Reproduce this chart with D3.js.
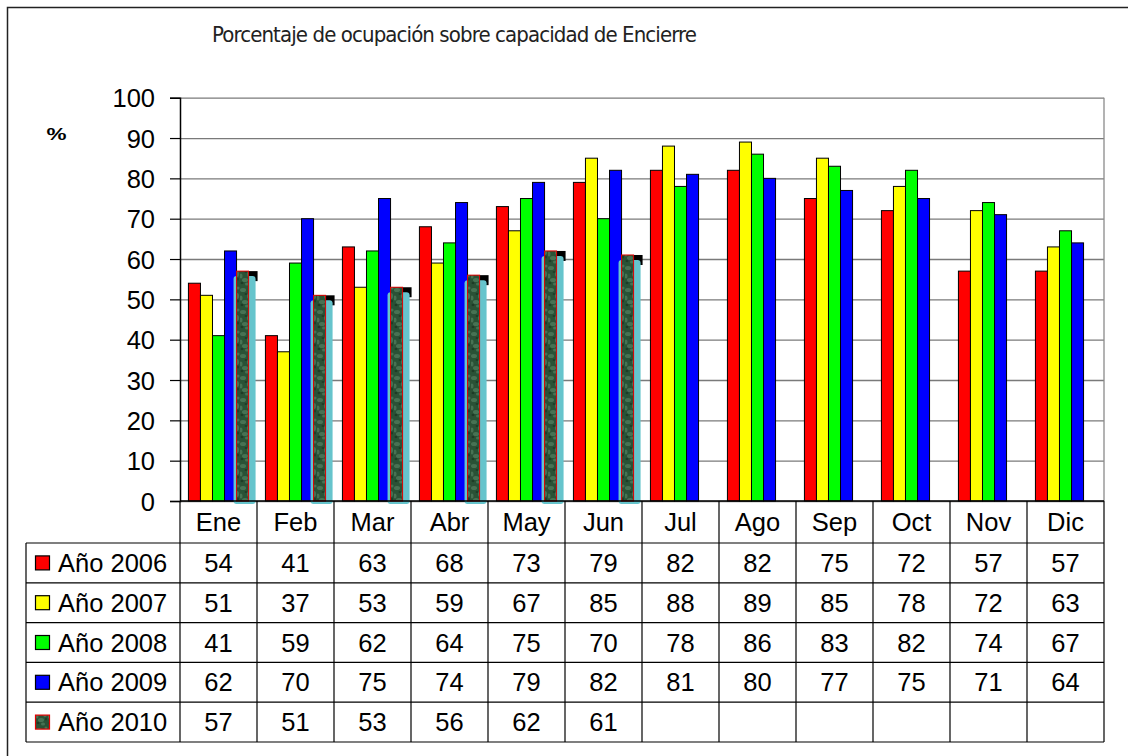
<!DOCTYPE html>
<html>
<head>
<meta charset="utf-8">
<script src="https://cdn.jsdelivr.net/npm/d3@7"></script>
<style>
  html, body { margin: 0; padding: 0; background: #fff; }
  svg { display: block; }
  text { font-family: "Liberation Sans", Arial, sans-serif; }
</style>
</head>
<body>
<svg id="chart" width="1128" height="756"></svg>
<script>
// ---------- data ----------
const months = ["Ene","Feb","Mar","Abr","May","Jun","Jul","Ago","Sep","Oct","Nov","Dic"];
const seriesNames = ["Año 2006","Año 2007","Año 2008","Año 2009","Año 2010"];
const values2006 = [54,41,63,68,73,79,82,82,75,72,57,57];
const values2007 = [51,37,53,59,67,85,88,89,85,78,72,63];
const values2008 = [41,59,62,64,75,70,78,86,83,82,74,67];
const values2009 = [62,70,75,74,79,82,81,80,77,75,71,64];
const values2010 = [57,51,53,56,62,61,null,null,null,null,null,null];
const yTicks = [0,10,20,30,40,50,60,70,80,90,100];
const titleText = "Porcentaje de ocupación sobre capacidad de Encierre";
const yUnit = "%";

const seriesValues = [values2006, values2007, values2008, values2009, values2010];
const seriesColors = ["#ff0000","#ffff00","#00ff00","#0000ff","url(#marble)"];
const seriesStroke = ["#000","#000","#000","#000","#e00000"];

// ---------- layout ----------
const plotLeft = 180, plotRight = 1104, plotTop = 97.7, plotBottom = 501;
const headerBottom = 543, tableBottom = 742, legendLeft = 26;
const fs = 25.5;

const svg = d3.select("#chart");

// pattern for 2010 bars (mottled dark green)
const defs = svg.append("defs");
const pat = defs.append("pattern").attr("id","marble").attr("patternUnits","userSpaceOnUse")
  .attr("width",12).attr("height",22);
pat.append("rect").attr("width",12).attr("height",22).attr("fill","#2a5236");
[[3,4,3,2],[9,10,2,3],[5,16,3,2],[1,12,1.5,2.5],[10,2,1.5,1.5],[7,20,2,1.5]].forEach(d=>{
  pat.append("ellipse").attr("cx",d[0]).attr("cy",d[1]).attr("rx",d[2]).attr("ry",d[3])
    .attr("fill","#5e8c6b").attr("opacity",0.55);
});
[[6,8,1.5,1],[2,19,1.5,1.2],[10,15,1,1.5]].forEach(d=>{
  pat.append("ellipse").attr("cx",d[0]).attr("cy",d[1]).attr("rx",d[2]).attr("ry",d[3])
    .attr("fill","#17331f").attr("opacity",0.7);
});

// outer border
svg.append("rect").attr("x",7.5).attr("y",7.5).attr("width",1300).attr("height",900)
  .attr("fill","none").attr("stroke","#222").attr("stroke-width",1.5);

// title
svg.append("text").attr("x",454.5).attr("y",42.3).attr("text-anchor","middle")
  .attr("textLength",485).attr("lengthAdjust","spacing")
  .style("font-family","'Liberation Sans Narrow','Arial Narrow','DejaVu Sans Condensed',sans-serif")
  .style("font-size","22px").attr("fill","#222").text(titleText);

// scales
const x0 = d3.scaleBand().domain(months).range([plotLeft, plotRight]);
const x1 = d3.scaleBand().domain(seriesNames).range([0, x0.bandwidth()]).paddingOuter(0.7);
const y = d3.scaleLinear().domain([0,100]).range([plotBottom, plotTop]);

// gridlines
const grid = svg.append("g").attr("transform",`translate(${plotLeft},0)`)
  .call(d3.axisLeft(y).tickValues(yTicks).tickSize(-(plotRight-plotLeft)).tickFormat(""));
grid.select(".domain").remove();
grid.selectAll("line").attr("stroke","#7a7a7a").attr("stroke-width",1.3);

// plot right border
svg.append("line").attr("x1",plotRight).attr("x2",plotRight).attr("y1",plotTop).attr("y2",plotBottom)
  .attr("stroke","#8a8a8a").attr("stroke-width",1.3);

// bars
const groups = svg.append("g").selectAll("g").data(months).join("g")
  .attr("transform", m => `translate(${x0(m)},0)`);

groups.each(function(m, mi){
  const g = d3.select(this);
  seriesNames.forEach((s, si) => {
    const v = seriesValues[si][mi];
    if (v == null) return;
    const bx = x1(s), bw = x1.bandwidth(), by = y(v), bh = y(0) - y(v);
    if (si === 4) {
      // 3D-like shadow behind textured bar
      g.append("rect").attr("x", bx + 2).attr("y", by).attr("width", bw + 7).attr("height", 10).attr("fill","#000");
      g.append("rect").attr("x", bx - 3).attr("y", by + 5).attr("width", bw + 10).attr("height", bh - 2)
        .attr("rx",3).attr("fill","#66c4cc");
    }
    g.append("rect").attr("x", bx).attr("y", by).attr("width", bw).attr("height", bh)
      .attr("fill", seriesColors[si]).attr("stroke", seriesStroke[si]).attr("stroke-width", 1);
  });
});

// y axis
const yAxis = svg.append("g").attr("transform",`translate(${plotLeft},0)`)
  .call(d3.axisLeft(y).tickValues(yTicks).tickSize(10).tickPadding(15));
yAxis.select(".domain").attr("stroke","#000").attr("stroke-width",1.5);
yAxis.selectAll(".tick line").attr("stroke","#000").attr("stroke-width",1.2);
yAxis.selectAll(".tick text").attr("fill","#000").style("font-size", fs + "px")
  .style("font-family","'Liberation Sans', Arial, sans-serif").attr("dy","0.36em");

// zero line
svg.append("line").attr("x1",plotLeft).attr("x2",plotRight).attr("y1",plotBottom).attr("y2",plotBottom)
  .attr("stroke","#000").attr("stroke-width",1.3);

// unit label
svg.append("text").attr("x",56.5).attr("y",140).attr("text-anchor","middle")
  .attr("textLength",20).attr("lengthAdjust","spacingAndGlyphs")
  .style("font-size","17px").style("font-weight","bold").text(yUnit);

// ---------- data table ----------
const rowY = d3.scaleBand().domain(seriesNames).range([headerBottom, tableBottom]);
const tbl = svg.append("g");
const lineStyle = sel => sel.attr("stroke","#000").attr("stroke-width",1.2);

// horizontal lines
tbl.append("line").attr("x1",legendLeft).attr("x2",plotRight).attr("y1",headerBottom).attr("y2",headerBottom).call(lineStyle);
seriesNames.forEach(s => {
  tbl.append("line").attr("x1",legendLeft).attr("x2",plotRight)
    .attr("y1",rowY(s)+rowY.bandwidth()).attr("y2",rowY(s)+rowY.bandwidth()).call(lineStyle);
});
// vertical lines
months.forEach(m => {
  tbl.append("line").attr("x1",x0(m)).attr("x2",x0(m)).attr("y1",plotBottom).attr("y2",tableBottom).call(lineStyle);
});
tbl.append("line").attr("x1",plotRight).attr("x2",plotRight).attr("y1",plotBottom).attr("y2",tableBottom).call(lineStyle);
tbl.append("line").attr("x1",legendLeft).attr("x2",legendLeft).attr("y1",headerBottom).attr("y2",tableBottom).call(lineStyle);

// month labels
months.forEach(m => {
  tbl.append("text").attr("x", x0(m) + x0.bandwidth()/2).attr("y", (plotBottom+headerBottom)/2 + fs*0.36)
    .attr("text-anchor","middle").style("font-size", fs + "px").text(m);
});

// legend rows + values
seriesNames.forEach((s, si) => {
  const cy = rowY(s) + rowY.bandwidth()/2;
  tbl.append("rect").attr("x",35.5).attr("y",cy-7).attr("width",14).attr("height",14)
    .attr("fill", seriesColors[si]).attr("stroke", seriesStroke[si]).attr("stroke-width",1.2);
  tbl.append("text").attr("x",58).attr("y",cy + fs*0.36).style("font-size", fs + "px").text(s);
  months.forEach((m, mi) => {
    const v = seriesValues[si][mi];
    if (v == null) return;
    tbl.append("text").attr("x", x0(m) + x0.bandwidth()/2).attr("y", cy + fs*0.36)
      .attr("text-anchor","middle").style("font-size", fs + "px").text(v);
  });
});
</script>
</body>
</html>
